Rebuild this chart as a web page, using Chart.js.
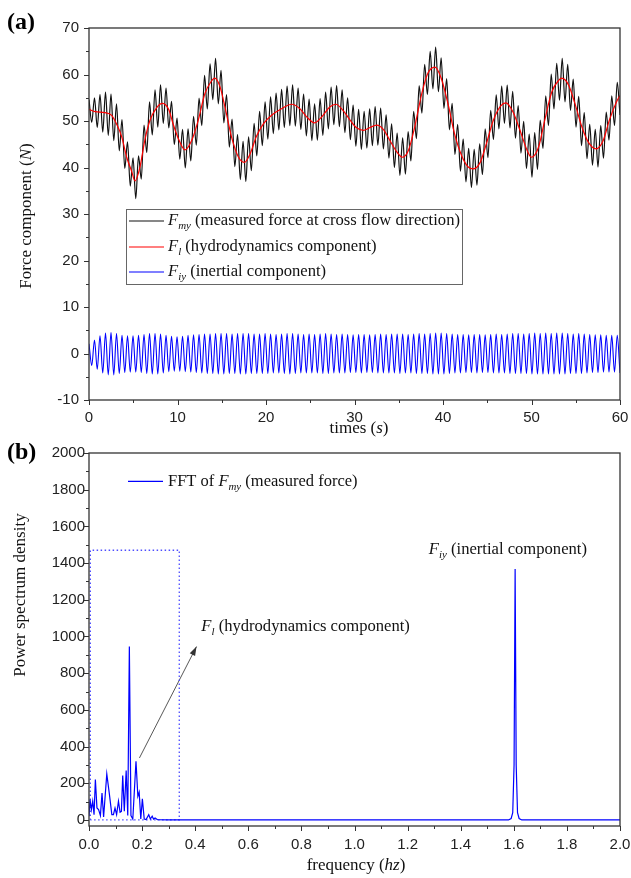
<!DOCTYPE html>
<html lang="en">
<head>
<meta charset="UTF-8" />
<title>Cross flow force components and FFT</title>
<script src="https://cdn.jsdelivr.net/npm/chart.js"></script>
<style>
  html, body { margin: 0; padding: 0; background: #fff; }
  canvas { display: block; }
</style>
</head>
<body>
<canvas id="chartA" width="631" height="440"></canvas>
<canvas id="chartB" width="631" height="438"></canvas>
<script>
// ---- panel (a): force signals ----
// black / blue waves are listed peak, trough, peak ... (one value every half period)
const halfPeriod = 60 / 193;
const fmyExtremes = [
  54.6, 49.7, 55.0, 48.6, 55.7, 47.6, 56.2, 46.9, 55.8, 45.8,
  53.7, 43.6, 50.3, 39.8, 45.5, 36.0, 42.1, 33.3, 42.5, 37.5,
  49.1, 43.2, 54.1, 47.0, 56.7, 48.7, 57.8, 49.5, 57.1, 48.5,
  54.2, 44.9, 50.6, 41.8, 48.2, 39.9, 48.3, 41.4, 51.0, 44.8,
  54.9, 49.0, 59.8, 52.6, 62.3, 54.6, 63.5, 53.7, 60.9, 49.6,
  55.7, 44.4, 50.4, 40.2, 47.1, 37.4, 45.6, 37.0, 46.6, 39.3,
  49.5, 42.5, 52.1, 44.7, 54.1, 46.1, 55.2, 47.3, 56.0, 48.1,
  56.8, 48.6, 57.5, 49.0, 57.8, 48.9, 57.1, 48.2, 55.8, 46.8,
  54.7, 45.8, 53.7, 45.9, 54.8, 46.9, 56.2, 48.3, 57.3, 49.2,
  57.6, 48.8, 56.7, 47.5, 55.0, 46.0, 53.4, 44.6, 52.5, 43.9,
  52.1, 44.2, 52.6, 44.7, 53.1, 44.8, 52.8, 44.0, 51.3, 42.0,
  49.4, 40.0, 47.4, 38.3, 46.4, 38.6, 47.7, 41.4, 52.1, 46.2,
  57.6, 51.7, 62.2, 55.7, 65.0, 56.9, 65.9, 56.3, 63.6, 52.7,
  59.1, 48.1, 53.8, 42.8, 49.3, 39.2, 46.1, 36.9, 44.1, 35.7,
  43.9, 36.2, 45.1, 38.5, 48.3, 42.1, 52.3, 46.0, 55.6, 48.3,
  57.5, 49.5, 57.7, 48.5, 56.4, 46.3, 53.3, 43.1, 49.9, 39.8,
  47.2, 37.9, 47.5, 39.6, 50.2, 44.1, 55.4, 49.0, 60.1, 52.6,
  62.4, 54.5, 63.5, 54.1, 62.2, 52.3, 59.0, 48.7, 55.3, 44.7,
  51.8, 41.9, 49.3, 40.5, 48.2, 40.1, 49.0, 42.0, 51.9, 45.9,
  55.4, 49.0, 58.3, 51.3
];
const fiyExtremes = [
  2.1, -2.6, 2.9, -3.4, 3.8, -4.2, 4.4, -4.6, 4.5, -4.6,
  4.3, -4.3, 3.9, -4.1, 3.8, -4.0, 3.8, -4.0, 3.9, -4.1,
  4.1, -4.3, 4.3, -4.4, 4.3, -4.4, 4.2, -4.2, 3.9, -3.9,
  3.7, -3.8, 3.6, -3.8, 3.7, -3.9, 3.9, -4.0, 4.0, -4.1,
  4.1, -4.2, 4.2, -4.3, 4.2, -4.3, 4.3, -4.4, 4.3, -4.4,
  4.3, -4.3, 4.2, -4.3, 4.3, -4.4, 4.3, -4.4, 4.3, -4.3,
  4.2, -4.3, 4.2, -4.3, 4.3, -4.3, 4.2, -4.2, 4.1, -4.2,
  4.2, -4.3, 4.3, -4.4, 4.3, -4.3, 4.2, -4.2, 4.1, -4.2,
  4.2, -4.2, 4.1, -4.2, 4.2, -4.3, 4.3, -4.3, 4.2, -4.2,
  4.1, -4.2, 4.2, -4.2, 4.1, -4.1, 4.0, -4.1, 4.1, -4.2,
  4.1, -4.1, 4.0, -4.1, 4.1, -4.2, 4.2, -4.2, 4.1, -4.2,
  4.2, -4.2, 4.2, -4.3, 4.2, -4.2, 4.1, -4.2, 4.2, -4.3,
  4.3, -4.3, 4.2, -4.3, 4.3, -4.4, 4.4, -4.4, 4.4, -4.4,
  4.3, -4.3, 4.2, -4.2, 4.1, -4.2, 4.1, -4.1, 4.0, -4.1,
  4.1, -4.2, 4.1, -4.1, 4.0, -4.1, 4.1, -4.2, 4.2, -4.2,
  4.1, -4.2, 4.2, -4.3, 4.3, -4.3, 4.3, -4.3, 4.2, -4.3,
  4.3, -4.4, 4.4, -4.4, 4.3, -4.4, 4.4, -4.4, 4.3, -4.4,
  4.4, -4.4, 4.4, -4.4, 4.3, -4.3, 4.2, -4.3, 4.3, -4.3,
  4.2, -4.2, 4.1, -4.1, 4.0, -4.1, 4.0, -4.0, 3.9, -4.0,
  3.9, -4.0, 3.9, -4.2
];
// red (hydrodynamics) curve
const flTime = [0, 0.7, 1.8, 2.56, 3.1, 3.7, 4.26, 4.8, 5.2, 5.76, 6.3, 6.9, 7.65, 8.3, 9.0, 9.5, 10.1, 10.85,
  11.6, 12.35, 13.1, 13.8, 14.2, 14.8, 15.4, 16.1, 16.9, 17.55, 18.2, 18.9, 19.7, 20.6, 21.8, 22.9, 23.8, 24.6,
  25.5, 26.3, 27.2, 27.9, 28.7, 29.5, 30.2, 31.0, 31.75, 32.5, 33.3, 34.0, 34.8, 35.4, 36.1, 36.8, 37.6, 38.3,
  39.1, 39.8, 40.6, 41.3, 42.1, 42.85, 43.4, 44.2, 44.9, 45.7, 46.5, 47.1, 47.9, 48.7, 49.5, 50.0, 50.8, 51.5,
  52.3, 53.1, 53.4, 54.2, 54.9, 55.7, 56.4, 57.3, 58.1, 58.8, 59.6, 60.0];
const flForce = [52.5, 52.0, 51.8, 51.2, 49.4, 46.6, 42.2, 39.3, 37.1, 40.1, 45.8, 50.2, 52.9, 53.8, 52.5, 49.4, 46.2, 43.8,
  45.8, 50.2, 55.9, 58.5, 59.2, 57.4, 52.7, 46.6, 42.2, 41.1, 42.9, 46.6, 49.4, 51.2, 52.7, 53.6, 52.7, 50.9,
  49.6, 50.9, 53.0, 53.6, 52.3, 50.2, 48.6, 48.0, 48.6, 49.1, 48.1, 45.8, 43.3, 42.2, 43.7, 48.7, 55.9, 60.3,
  61.6, 59.2, 53.4, 47.3, 42.6, 40.1, 39.7, 41.1, 45.1, 50.2, 53.2, 53.9, 52.0, 48.0, 43.7, 42.2, 44.4, 50.2,
  56.3, 58.8, 59.2, 57.7, 53.8, 48.7, 45.5, 44.0, 45.8, 50.2, 54.1, 55.5];
const timeTicks = [0, 10, 20, 30, 40, 50, 60];
const forceTicks = [-10, 0, 10, 20, 30, 40, 50, 60, 70];

// ---- panel (b): power spectrum of F_my ----
const fftFreq = [0.000, 0.004, 0.009, 0.014, 0.019, 0.024, 0.030, 0.036, 0.043, 0.049, 0.055, 0.067, 0.077,
  0.086, 0.092, 0.098, 0.104, 0.111, 0.117, 0.122, 0.127, 0.133, 0.140, 0.146, 0.152, 0.158, 0.165, 0.177,
  0.184, 0.189, 0.195, 0.201, 0.208, 0.215, 0.225, 0.231, 0.238, 0.243, 0.249, 0.258, 0.300,
  1.580, 1.590, 1.596, 1.601, 1.605, 1.609, 1.614, 1.620, 1.630, 2.000];
const fftPsd = [20, 111, 56, 102, 29, 220, 65, 56, 24, 147, 16, 251, 138,
  29, 29, 65, 29, 102, 42, 47, 242, 47, 269, 24, 945, 24, 5, 320,
  129, 151, 5, 115, 5, 2, 29, 5, 20, 5, 11, 1, 0,
  0, 8, 40, 300, 1368, 300, 40, 8, 0, 0];
const boxFreq = [0.005, 0.005, 0.34, 0.34, 0.005];
const boxPsd = [0, 1470, 1470, 0, 0];
const arrowFreq = [0.19, 0.405];
const arrowPsd = [338, 945];
const freqTicks = [0, 0.2, 0.4, 0.6, 0.8, 1.0, 1.2, 1.4, 1.6, 1.8, 2.0];
const psdTicks = [0, 200, 400, 600, 800, 1000, 1200, 1400, 1600, 1800, 2000];

const serif = '"Liberation Serif", "Times New Roman", serif';
const sans = '"Liberation Sans", Arial, sans-serif';
const pts = (xs, ys) => ys.map((v, i) => ({ x: xs[i], y: v }));
const wave = arr => arr.map((v, i) => ({ x: i * halfPeriod, y: v }));

// text with italic parts and subscripts: parts = [text, italic, sub]
function drawRich(ctx, parts, x, y, size, align) {
  const fontOf = p => (p[1] ? 'italic ' : '') + (p[2] ? size * 0.66 : size) + 'px ' + serif;
  let w = 0;
  parts.forEach(p => { ctx.font = fontOf(p); w += ctx.measureText(p[0]).width; });
  let cx = align === 'center' ? x - w / 2 : x;
  ctx.textAlign = 'left';
  ctx.textBaseline = 'middle';
  parts.forEach(p => {
    ctx.font = fontOf(p);
    ctx.fillText(p[0], cx, y + (p[2] ? size * 0.32 : 0));
    cx += ctx.measureText(p[0]).width;
  });
}

function drawFrame(chart, xTicks, yTicks) {
  const { ctx, chartArea: a, scales: { x, y } } = chart;
  const mids = t => t.slice(1).map((v, i) => (v + t[i]) / 2);
  ctx.save();
  ctx.strokeStyle = '#333';
  ctx.lineWidth = 1.3;
  ctx.strokeRect(a.left, a.top, a.right - a.left, a.bottom - a.top);
  ctx.lineWidth = 1;
  ctx.beginPath();
  xTicks.forEach(v => { const p = Math.round(x.getPixelForValue(v)) + 0.5; ctx.moveTo(p, a.bottom); ctx.lineTo(p, a.bottom + 5); });
  mids(xTicks).forEach(v => { const p = Math.round(x.getPixelForValue(v)) + 0.5; ctx.moveTo(p, a.bottom); ctx.lineTo(p, a.bottom + 3); });
  yTicks.forEach(v => { const p = Math.round(y.getPixelForValue(v)) + 0.5; ctx.moveTo(a.left, p); ctx.lineTo(a.left - 5, p); });
  mids(yTicks).forEach(v => { const p = Math.round(y.getPixelForValue(v)) + 0.5; ctx.moveTo(a.left, p); ctx.lineTo(a.left - 3, p); });
  ctx.stroke();
  ctx.restore();
}

// fit: fixed axis box size, so the plot area matches the original frame
function axisOpts(min, max, ticks, fmt, pad, size, horizontal) {
  return {
    type: 'linear', min, max,
    afterBuildTicks: s => { s.ticks = ticks.map(v => ({ value: v })); },
    afterFit: s => {
      if (horizontal) { s.height = size; s.paddingLeft = 0; s.paddingRight = 0; }
      else { s.width = size; s.paddingTop = 0; s.paddingBottom = 0; }
    },
    grid: { display: false, drawTicks: false },
    border: { display: false },
    ticks: { autoSkip: false, maxRotation: 0, padding: pad, color: '#222',
      font: { family: sans, size: 15 }, callback: fmt }
  };
}

const decorA = {
  id: 'decorA',
  afterDatasetsDraw(chart) {
    drawFrame(chart, timeTicks, forceTicks);
    const ctx = chart.ctx;
    ctx.save();
    ctx.fillStyle = '#000';
    ctx.font = 'bold 24px ' + serif;
    ctx.textBaseline = 'middle';
    ctx.fillText('(a)', 7, 23);
    ctx.fillStyle = '#111';
    ctx.save();
    ctx.translate(27, 216);
    ctx.rotate(-Math.PI / 2);
    drawRich(ctx, [['Force component ('], ['N', true], [')']], 0, 0, 17, 'center');
    ctx.restore();
    drawRich(ctx, [['times ('], ['s', true], [')']], 359, 429, 17, 'center');
    // legend
    ctx.fillStyle = '#fff';
    ctx.fillRect(126, 209, 336, 75);
    ctx.strokeStyle = '#666';
    ctx.lineWidth = 1;
    ctx.strokeRect(126.5, 209.5, 336, 75);
    const rows = [
      ['#111', [['F', true], ['my', true, true], [' (measured force at cross flow direction)']], 221],
      ['#f00', [['F', true], ['l', true, true], [' (hydrodynamics component)']], 247],
      ['#00f', [['F', true], ['iy', true, true], [' (inertial component)']], 272]
    ];
    rows.forEach(r => {
      ctx.strokeStyle = r[0];
      ctx.lineWidth = 1.2;
      ctx.beginPath(); ctx.moveTo(129, r[2]); ctx.lineTo(164, r[2]); ctx.stroke();
      ctx.fillStyle = '#111';
      drawRich(ctx, r[1], 168, r[2], 16.6, 'left');
    });
    ctx.restore();
  }
};

const decorB = {
  id: 'decorB',
  afterDatasetsDraw(chart) {
    drawFrame(chart, freqTicks, psdTicks);
    const { ctx, scales: { x, y } } = chart;
    ctx.save();
    ctx.fillStyle = '#000';
    ctx.font = 'bold 24px ' + serif;
    ctx.textBaseline = 'middle';
    ctx.fillText('(b)', 7, 13);
    ctx.fillStyle = '#111';
    ctx.save();
    ctx.translate(21, 155);
    ctx.rotate(-Math.PI / 2);
    drawRich(ctx, [['Power spectrum density']], 0, 0, 17, 'center');
    ctx.restore();
    drawRich(ctx, [['frequency ('], ['hz', true], [')']], 356, 426, 17, 'center');
    // legend
    const ly = y.getPixelForValue(1845);
    ctx.strokeStyle = '#00f';
    ctx.lineWidth = 1.2;
    ctx.beginPath(); ctx.moveTo(128, ly); ctx.lineTo(163, ly); ctx.stroke();
    drawRich(ctx, [['FFT of '], ['F', true], ['my', true, true], [' (measured force)']], 168, ly, 16.5, 'left');
    drawRich(ctx, [['F', true], ['l', true, true], [' (hydrodynamics component)']],
      x.getPixelForValue(0.423), y.getPixelForValue(1053), 16.6, 'left');
    drawRich(ctx, [['F', true], ['iy', true, true], [' (inertial component)']],
      x.getPixelForValue(1.28), y.getPixelForValue(1473), 16.6, 'left');
    // arrow head
    const x0 = x.getPixelForValue(arrowFreq[0]), y0 = y.getPixelForValue(arrowPsd[0]);
    const x1 = x.getPixelForValue(arrowFreq[1]), y1 = y.getPixelForValue(arrowPsd[1]);
    const ang = Math.atan2(y1 - y0, x1 - x0);
    ctx.fillStyle = '#333';
    ctx.beginPath();
    ctx.moveTo(x1, y1);
    ctx.lineTo(x1 - 9 * Math.cos(ang) + 3 * Math.sin(ang), y1 - 9 * Math.sin(ang) - 3 * Math.cos(ang));
    ctx.lineTo(x1 - 9 * Math.cos(ang) - 3 * Math.sin(ang), y1 - 9 * Math.sin(ang) + 3 * Math.cos(ang));
    ctx.closePath();
    ctx.fill();
    ctx.restore();
  }
};

const common = {
  responsive: false, animation: false, devicePixelRatio: 1,
  plugins: { legend: { display: false }, tooltip: { enabled: false } },
  elements: { point: { radius: 0 } }
};

new Chart(document.getElementById('chartA'), {
  type: 'line',
  data: {
    datasets: [
      { data: pts(flTime, flForce), borderColor: '#ff0000', borderWidth: 1.2, cubicInterpolationMode: 'monotone' },
      { data: wave(fmyExtremes), borderColor: '#111', borderWidth: 1.2, cubicInterpolationMode: 'monotone' },
      { data: wave(fiyExtremes), borderColor: '#0000ff', borderWidth: 1.1, cubicInterpolationMode: 'monotone' }
    ]
  },
  options: {
    ...common,
    layout: { padding: { top: 28, right: 11, left: 0, bottom: 0 } },
    scales: {
      x: axisOpts(0, 60, timeTicks, v => String(v), 9, 40, true),
      y: axisOpts(-10, 70, forceTicks, v => String(v), 10, 89, false)
    }
  },
  plugins: [decorA]
});

new Chart(document.getElementById('chartB'), {
  type: 'line',
  data: {
    datasets: [
      { data: pts(fftFreq, fftPsd), borderColor: '#0000ff', borderWidth: 1.2, tension: 0 },
      { data: pts(boxFreq, boxPsd), borderColor: '#4d4dff', borderWidth: 1.3, borderDash: [1.5, 2.5], tension: 0 },
      { data: pts(arrowFreq, arrowPsd), borderColor: '#444', borderWidth: 0.9, tension: 0 }
    ]
  },
  options: {
    ...common,
    layout: { padding: { top: 13, right: 11, left: 0, bottom: 0 } },
    scales: {
      x: axisOpts(0, 2, freqTicks, v => v.toFixed(1), 10, 52, true),
      y: axisOpts(-33, 2000, psdTicks, v => String(v), 4, 89, false)
    }
  },
  plugins: [decorB]
});
</script>
</body>
</html>
